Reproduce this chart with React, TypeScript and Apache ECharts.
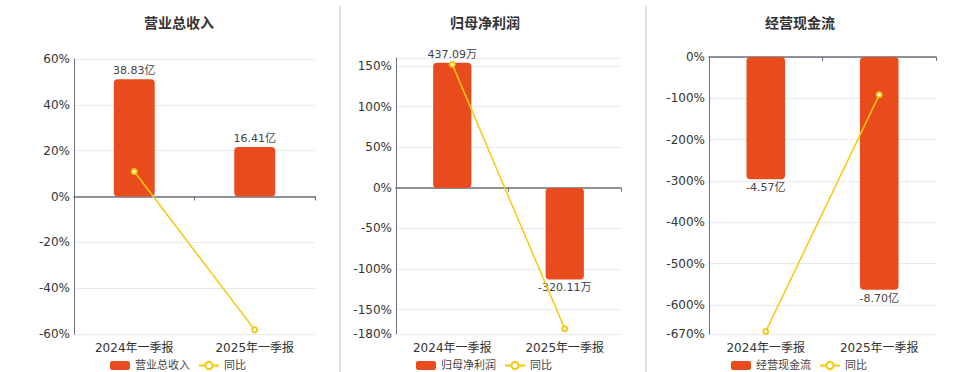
import React, { useEffect, useRef } from "react";
import * as echarts from "echarts";

const categories = ["2024年一季报", "2025年一季报"];

const revenueName = "营业总收入";
const revenueValues = [38.83, 16.41];
const revenueUnit = "亿";
const revenueYoY = [10.9, -58.2];

const profitName = "归母净利润";
const profitValues = [437.09, -320.11];
const profitUnit = "万";
const profitYoY = [152.2, -173.6];

const cashName = "经营现金流";
const cashValues = [-4.57, -8.7];
const cashUnit = "亿";
const cashYoY = [-664, -91.5];

const yoyName = "同比";

const BAR_COLOR = "#E84B1C";
const LINE_COLOR = "#F5C80F";
const FONT = "'DejaVu Sans', 'Noto Sans CJK SC', sans-serif";

type Panel = {
  name: string;
  values: number[];
  unit: string;
  yoy: number[];
  pctMin: number;
  pctMax: number;
  barMin: number;
  barMax: number;
  grid: { left: number; width: number; top: number; bottom: number };
  center: number;
  legendLeft: number;
};

const panels: Panel[] = [
  {
    name: revenueName, values: revenueValues, unit: revenueUnit, yoy: revenueYoY,
    pctMin: -60, pctMax: 60, barMin: -45.5, barMax: 45.5,
    grid: { left: 74, width: 241, top: 59, bottom: 38 },
    center: 174, legendLeft: 105,
  },
  {
    name: profitName, values: profitValues, unit: profitUnit, yoy: profitYoY,
    pctMin: -180, pctMax: 160, barMin: -510.8, barMax: 454,
    grid: { left: 396, width: 225, top: 58, bottom: 38 },
    center: 480, legendLeft: 411,
  },
  {
    name: cashName, values: cashValues, unit: cashUnit, yoy: cashYoY,
    pctMin: -670, pctMax: 0, barMin: -10.35, barMax: 0,
    grid: { left: 709, width: 227, top: 57, bottom: 38 },
    center: 795, legendLeft: 726,
  },
];

export default function App() {
  const ref = useRef<HTMLDivElement>(null);
  useEffect(() => {
    if (!ref.current) return;
    const chart = echarts.init(ref.current, undefined, { renderer: "svg" });
    const title: any[] = [];
    const grid: any[] = [];
    const xAxis: any[] = [];
    const yAxis: any[] = [];
    const series: any[] = [];
    const legend: any[] = [];
    panels.forEach((p, i) => {
      title.push({
        text: p.name,
        left: p.center,
        textAlign: "center",
        top: 11,
        textStyle: { fontSize: 14, fontWeight: "bold", color: "#333", fontFamily: FONT },
      });
      grid.push({ ...p.grid });
      xAxis.push({
        type: "category",
        gridIndex: i,
        data: categories,
        position: "bottom",
        axisLine: { show: false, onZero: false },
        axisTick: { show: false },
        axisLabel: { fontSize: 12, color: "#333", margin: 8 },
      });
      xAxis.push({
        type: "category",
        gridIndex: i,
        data: categories,
        position: "bottom",
        axisLine: { show: true, onZero: true, onZeroAxisIndex: i * 2, lineStyle: { color: "#6E7079", width: 1.5 } },
        axisTick: { show: true, length: 4, lineStyle: { color: "#6E7079" } },
        axisLabel: { show: false },
        splitLine: { show: false },
      });
      yAxis.push({
        type: "value",
        gridIndex: i,
        min: p.pctMin,
        max: p.pctMax,
        axisLine: { show: true, lineStyle: { color: "#6E7079" } },
        axisTick: { show: false },
        axisLabel: { fontSize: 12, color: "#333", margin: 4, formatter: "{value}%" },
        splitLine: { show: true, lineStyle: { color: "#E6EAF3" } },
      });
      yAxis.push({
        type: "value",
        gridIndex: i,
        min: p.barMin,
        max: p.barMax,
        show: false,
        splitLine: { show: false },
      });
      series.push({
        type: "bar",
        name: p.name,
        xAxisIndex: i * 2,
        yAxisIndex: i * 2 + 1,
        barWidth: "34%",
        itemStyle: { color: BAR_COLOR, borderRadius: 4 },
        data: p.values.map((v) => ({
          value: v,
          label: { position: v >= 0 ? "top" : "bottom" },
        })),
        label: {
          show: true,
          fontSize: 11,
          color: "#444",
          distance: 3,
          formatter: (d: any) => `${Number(d.value).toFixed(2)}${p.unit}`,
        },
      });
      series.push({
        type: "line",
        name: yoyName,
        xAxisIndex: i * 2,
        yAxisIndex: i * 2,
        data: p.yoy,
        symbol: "emptyCircle",
        symbolSize: 5,
        lineStyle: { color: LINE_COLOR, width: 1.5 },
        itemStyle: { color: LINE_COLOR },
        z: 5,
      });
      legend.push({
        data: [
          { name: p.name, icon: "roundRect" },
          { name: yoyName },
        ],
        left: p.legendLeft,
        top: 355,
        itemWidth: 20,
        itemHeight: 9,
        itemGap: 8,
        textStyle: { fontSize: 11, color: "#444" },
      });
    });
    chart.setOption({
      animation: false,
      textStyle: { fontFamily: FONT },
      title,
      grid,
      xAxis,
      yAxis,
      series,
      legend,
      graphic: [
        { type: "line", shape: { x1: 340, y1: 6, x2: 340, y2: 372 }, style: { stroke: "#d4d4d4", lineWidth: 1.5 } },
        { type: "line", shape: { x1: 646, y1: 6, x2: 646, y2: 372 }, style: { stroke: "#d4d4d4", lineWidth: 1.5 } },
      ],
    });
    return () => chart.dispose();
  }, []);
  return (
    <div
      ref={ref}
      style={{ position: "absolute", left: 0, top: 0, width: 960, height: 372, background: "#fff" }}
    />
  );
}
